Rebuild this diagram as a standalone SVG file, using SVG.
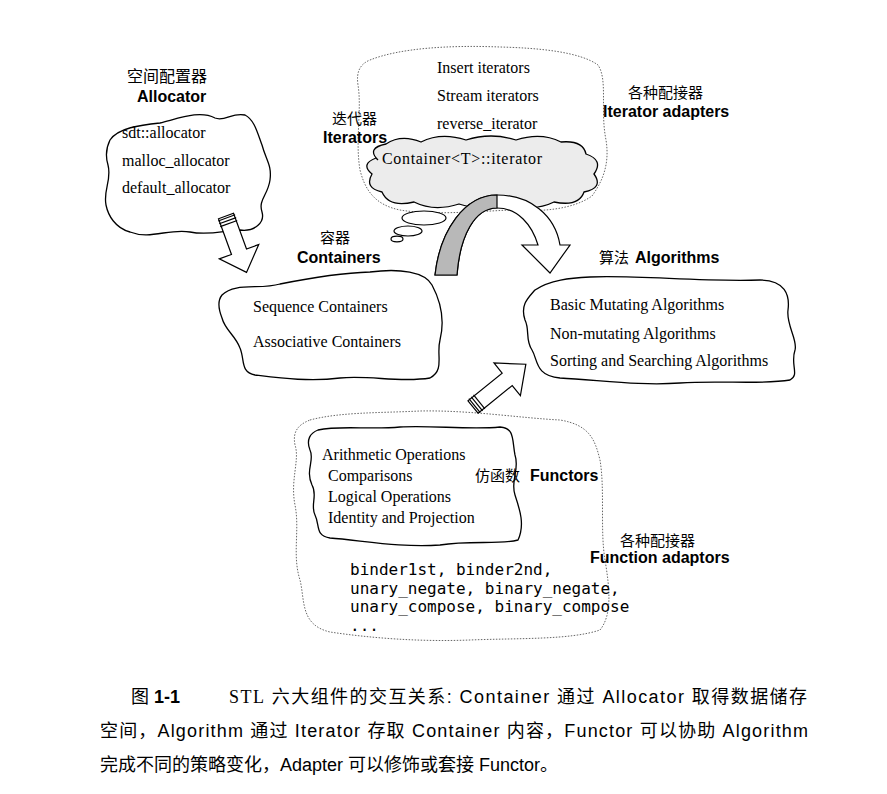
<svg xmlns="http://www.w3.org/2000/svg" width="887" height="794" viewBox="0 0 887 794">
<defs>
<style>
.cloud{fill:#fff;stroke:#000;stroke-width:1.3;stroke-linejoin:round}
.dot{fill:none;stroke:#666;stroke-width:1;stroke-dasharray:1.5 1.5}
.ser{font-family:"Liberation Serif","Times New Roman",serif;font-size:16px;fill:#000}
.bold{font-family:"Liberation Sans",Arial,sans-serif;font-weight:bold;font-size:16px;fill:#000}
.cjk{font-family:"Noto Sans CJK SC","Liberation Sans",sans-serif;font-size:15px;fill:#000}
.mono{font-family:"DejaVu Sans Mono","Liberation Mono",monospace;font-size:16px;fill:#000}
.cap{font-family:"Liberation Sans","Noto Sans CJK SC",sans-serif;font-size:18px;fill:#000}
.arr{fill:#fff;stroke:#000;stroke-width:1.2;stroke-linejoin:miter}
.rib{stroke:#000;stroke-width:1.2}
</style>
</defs>
<rect width="887" height="794" fill="#fff"/>

<g id="iterator-adapters">
<path class="dot" d="M370,60 C400,48 450,45 500,47 C540,48 580,52 598,65 C608,80 600,110 606,140 C610,165 602,182 592,196 C572,210 540,212 510,210 C470,212 430,215 400,210 C375,205 365,190 360,170 C355,140 362,110 358,85 C356,72 360,64 370,60 Z"/>
<text class="ser" x="437" y="73">Insert iterators</text>
<text class="ser" x="437" y="101">Stream iterators</text>
<text class="ser" x="437" y="129">reverse_iterator</text>
<text class="cjk" x="628" y="98">各种配接器</text>
<text class="bold" x="603" y="117">Iterator adapters</text>
</g>

<g id="iterators">
<path d="M378,160 q-12,-12 8,-16 q15,-10 35,-2 q20,-10 45,-2 q25,-8 50,0 q25,-8 45,2 q22,-2 25,12 q18,6 8,20 q10,14 -10,18 q-5,15 -30,10 q-20,10 -45,2 q-25,8 -50,0 q-25,8 -45,-2 q-25,6 -32,-10 q-18,-4 -10,-18 q-12,-10 4,-16 Z" fill="#ececec" stroke="#000" stroke-width="1.3"/>
<text class="ser" x="382" y="164" textLength="160" lengthAdjust="spacing">Container&lt;T&gt;::iterator</text>
<ellipse cx="424" cy="218" rx="22" ry="7" fill="#fff" stroke="#000" stroke-width="1.2"/>
<ellipse cx="408" cy="231" rx="14" ry="5" fill="#fff" stroke="#000" stroke-width="1.2"/>
<ellipse cx="397" cy="239" rx="6" ry="2.8" fill="#fff" stroke="#000" stroke-width="1.2"/>
<text class="cjk" x="332" y="124">迭代器</text>
<text class="bold" x="323" y="143">Iterators</text>
</g>

<g id="allocator">
<path class="cloud" d="M110,140 C118,128 140,125 160,123 C180,118 200,110 215,118 C225,122 232,112 245,115 C255,120 258,135 262,145 C266,160 272,165 270,180 C268,195 258,200 262,212 C265,222 255,232 240,230 C225,230 210,236 190,232 C170,228 150,240 130,232 C115,228 108,215 106,205 C103,190 112,180 108,165 C105,155 106,148 110,140 Z"/>
<text class="cjk" x="127" y="82" style="font-size:16px">空间配置器</text>
<text class="bold" x="137" y="102">Allocator</text>
<text class="ser" x="122" y="138">sdt::allocator</text>
<text class="ser" x="122" y="166">malloc_allocator</text>
<text class="ser" x="122" y="193">default_allocator</text>
</g>

<g id="containers">
<path class="cloud" d="M222,295 C235,282 260,290 280,284 C310,278 340,273 370,272 C400,268 425,272 432,285 C440,300 445,320 440,340 C436,355 445,370 430,378 C400,383 370,375 340,378 C310,382 280,378 255,375 C240,372 245,360 240,348 C235,335 225,330 222,318 C218,308 218,300 222,295 Z"/>
<text class="cjk" x="320" y="243">容器</text>
<text class="bold" x="297" y="263">Containers</text>
<text class="ser" x="253" y="312">Sequence Containers</text>
<text class="ser" x="253" y="347">Associative Containers</text>
</g>

<g id="algorithms">
<path class="cloud" d="M535,290 C550,280 570,278 590,277 C640,275 700,282 760,280 C785,280 790,295 788,310 C786,325 798,340 795,350 C790,365 800,375 790,380 C760,385 720,380 680,383 C640,386 600,380 560,378 C535,376 538,360 532,350 C525,340 530,330 525,320 C520,305 528,298 535,290 Z"/>
<text class="cjk" x="599" y="263">算法</text>
<text class="bold" x="635" y="263">Algorithms</text>
<text class="ser" x="550" y="310">Basic Mutating Algorithms</text>
<text class="ser" x="550" y="339">Non-mutating Algorithms</text>
<text class="ser" x="550" y="366">Sorting and Searching Algorithms</text>
</g>

<g id="function-adaptors">
<path class="dot" d="M310,420 C340,412 380,413 420,411 C470,410 520,418 560,420 C590,425 595,440 600,460 C605,490 600,530 605,560 C610,590 612,615 600,630 C570,640 520,638 470,640 C420,642 370,638 330,632 C300,625 305,600 300,580 C292,555 300,530 295,505 C290,480 300,460 295,445 C292,430 300,424 310,420 Z"/>
<text class="cjk" x="620" y="546">各种配接器</text>
<text class="bold" x="590" y="563">Function adaptors</text>
<text class="mono" x="350" y="575">binder1st, binder2nd,</text>
<text class="mono" x="350" y="594">unary_negate, binary_negate,</text>
<text class="mono" x="350" y="612">unary_compose, binary_compose</text>
<text class="mono" x="350" y="631">...</text>
</g>

<g id="functors">
<path class="cloud" d="M318,430 C340,425 370,430 400,427 C430,425 470,430 500,427 C515,428 512,440 515,455 C520,470 510,480 515,495 C520,510 525,525 518,540 C500,545 470,540 440,545 C400,548 360,540 330,538 C315,536 320,525 315,515 C310,505 318,495 312,485 C305,470 315,460 310,450 C306,440 310,433 318,430 Z"/>
<text class="ser" x="322" y="460">Arithmetic Operations</text>
<text class="ser" x="328" y="481">Comparisons</text>
<text class="ser" x="328" y="502">Logical Operations</text>
<text class="ser" x="328" y="523">Identity and Projection</text>
<text class="cjk" x="475" y="481">仿函数</text>
<text class="bold" x="530" y="481">Functors</text>
</g>

<g id="connectors">
<g transform="translate(226,216) rotate(-20)">
<path class="arr" d="M-8,0 L-8,38 L-21,38 L0,60 L21,38 L8,38 L8,0 Z"/>
<line class="rib" x1="-9" y1="2" x2="9" y2="2"/>
<line class="rib" x1="-9" y1="5" x2="9" y2="5"/>
<line class="rib" x1="-9" y1="8" x2="9" y2="8"/>
</g>
<path d="M435,275 C440,230 465,195 497,195 C530,195 555,215 560,245 L570,245 L550,273 L522,245 L538,245 C532,225 518,208 497,208 C475,208 460,235 457,275 Z" fill="#fff" stroke="#000" stroke-width="1.2"/>
<path d="M435,275 C440,230 465,195 497,195 L497,208 C475,208 460,235 457,275 Z" fill="#b8b8b8" stroke="#000" stroke-width="1.2"/>
<g transform="translate(473,407) rotate(-129)">
<path class="arr" d="M-8,0 L-8,44 L-21,44 L0,68 L21,44 L8,44 L8,0 Z"/>
<line class="rib" x1="-9" y1="2" x2="9" y2="2"/>
<line class="rib" x1="-9" y1="5" x2="9" y2="5"/>
<line class="rib" x1="-9" y1="8" x2="9" y2="8"/>
</g>
</g>

<g id="caption">
<text class="cap" x="131" y="703">图 <tspan font-weight="bold">1-1</tspan></text>
<text class="cap" x="229" y="703" textLength="578" lengthAdjust="spacing"><tspan font-family="Liberation Serif, serif">STL</tspan> 六大组件的交互关系: Container 通过 Allocator 取得数据储存</text>
<text class="cap" x="100" y="737" textLength="708" lengthAdjust="spacing">空间，Algorithm 通过 Iterator 存取 Container 内容，Functor 可以协助 Algorithm</text>
<text class="cap" x="100" y="771">完成不同的策略变化，Adapter 可以修饰或套接 Functor。</text>
</g>
</svg>
